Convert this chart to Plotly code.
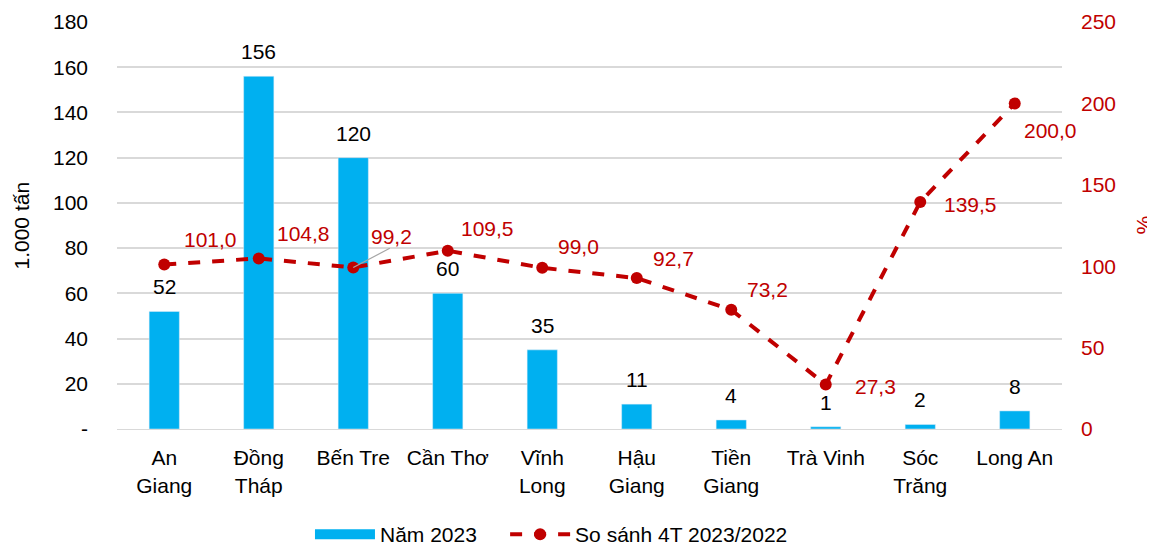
import plotly.graph_objects as go

provinces = ["An<br>Giang", "Đồng<br>Tháp", "Bến Tre", "Cần Thơ", "Vĩnh<br>Long",
             "Hậu<br>Giang", "Tiền<br>Giang", "Trà Vinh", "Sóc<br>Trăng", "Long An"]
output_2023 = [52, 156, 120, 60, 35, 11, 4, 1, 2, 8]
ratio_pct = [101.0, 104.8, 99.2, 109.5, 99.0, 92.7, 73.2, 27.3, 139.5, 200.0]
left_ticks = [0, 20, 40, 60, 80, 100, 120, 140, 160, 180]
left_ticktext = ["-", "20", "40", "60", "80", "100", "120", "140", "160", "180"]

# label offsets (px) for the % labels
label_shift = [(46, 25), (45, 25), (38, 31), (40, 22), (36, 21),
               (37, 20), (36, 20), (50, -2), (50, -3), (36, -27)]

BLUE = "#00B0F0"
RED = "#C00000"

fig = go.Figure()
fig.add_trace(go.Bar(x=provinces, y=output_2023, name="Năm 2023",
                     marker_color=BLUE, width=0.32, showlegend=False))
# legend-only entry so the swatch is a wide block like the original
fig.add_trace(go.Scatter(x=[None], y=[None], name="Năm 2023", mode="lines",
                         line=dict(color=BLUE, width=13), legend="legend"))
fig.add_trace(go.Scatter(x=provinces, y=ratio_pct, name="So sánh 4T 2023/2022",
                         yaxis="y2", mode="lines+markers", legend="legend2",
                         line=dict(color=RED, width=4, dash="dash"),
                         marker=dict(color=RED, size=12)))

for p, v in zip(provinces, output_2023):
    fig.add_annotation(x=p, y=v, text=str(v), showarrow=False, yanchor="bottom",
                       yshift=11, font=dict(color="black", size=21))

for i, (p, v) in enumerate(zip(provinces, ratio_pct)):
    dx, dy = label_shift[i]
    fig.add_annotation(x=p, y=v, yref="y2", text=f"{v:.1f}".replace(".", ","),
                       showarrow=False, xshift=dx, yshift=dy,
                       font=dict(color=RED, size=21))

# leader line for Bến Tre label
fig.add_annotation(x=provinces[2], y=ratio_pct[2], yref="y2", text="",
                   showarrow=True, arrowhead=0, arrowwidth=1.2, arrowcolor="#A6A6A6",
                   ax=38, ay=-20, standoff=0)

# axis titles
fig.add_annotation(xref="paper", yref="paper", x=0, y=0.5, xanchor="center",
                   text="1.000 tấn", textangle=-90, showarrow=False,
                   font=dict(size=21, color="black"), xshift=-96)
fig.add_annotation(xref="paper", yref="paper", x=1.0, y=0.5, xanchor="center",
                   text="%", textangle=-90, showarrow=False,
                   font=dict(size=21, color=RED), xshift=81)

legend_style = dict(orientation="h", xanchor="left", y=-0.209, yanchor="top",
                    font=dict(size=21), itemwidth=60)

# page body adds an 8px margin, so the figure is 8px smaller than the window
fig.update_layout(
    width=1147, height=538,
    margin=dict(l=109, r=93, t=14, b=117, autoexpand=False),
    paper_bgcolor="white", plot_bgcolor="white",
    font=dict(family="Liberation Sans, Arial", size=21, color="black"),
    xaxis=dict(tickfont=dict(size=21), showline=True, linecolor="#D9D9D9",
               linewidth=1, ticks="", automargin=False, ticklabelstandoff=10,
               range=[-0.5, 9.5]),
    yaxis=dict(range=[0, 180], tickvals=left_ticks, ticktext=left_ticktext,
               showgrid=True, gridcolor="#D9D9D9", gridwidth=1.5, zeroline=False,
               tickfont=dict(size=21), automargin=False, ticklabelstandoff=28),
    yaxis2=dict(range=[0, 250], overlaying="y", side="right", showgrid=False,
                tickvals=[0, 50, 100, 150, 200, 250], zeroline=False,
                tickfont=dict(color=RED, size=21), automargin=False,
                ticklabelstandoff=18),
    legend=dict(x=0.2042, **legend_style),
    legend2=dict(x=0.4107, **legend_style),
    showlegend=True,
)

fig.write_html("out.html")
